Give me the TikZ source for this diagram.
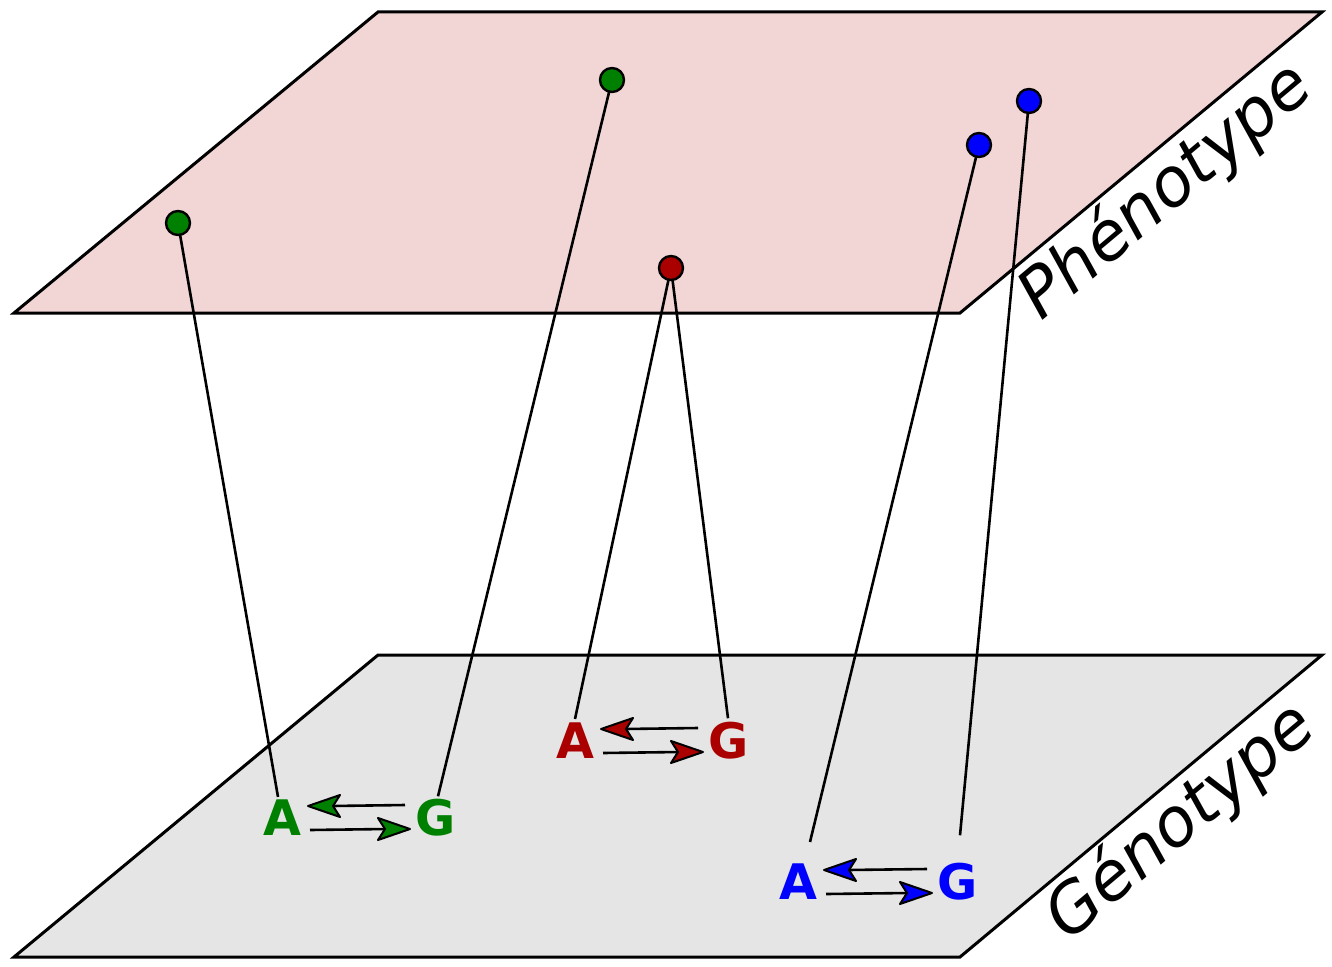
\documentclass[tikz,border=0pt]{standalone}
\usepackage{fontspec}
\setmainfont{DejaVu Sans}
\usetikzlibrary{calc}
\definecolor{pinkplane}{HTML}{F2D6D6}
\definecolor{greyplane}{HTML}{E5E5E5}
\definecolor{cgreen}{HTML}{008000}
\definecolor{cred}{HTML}{AA0000}
\definecolor{cblue}{HTML}{0000FF}
\tikzset{
  plane/.style={draw=black,line width=3pt,line join=miter},
  dot/.style={circle,draw=black,line width=2.4pt,minimum size=24pt,inner sep=0pt},
  link/.style={draw=black,line width=2.6pt},
  base/.style={font=\fontsize{49}{49}\selectfont\bfseries,inner sep=0pt},
  label/.style={font=\fontsize{67}{67}\selectfont\itshape,rotate=40,inner sep=0pt},
  shaft/.style={draw=black,line width=2.6pt},
  tiphead/.style={draw=black,fill=#1,line width=2pt,line join=round},
}
\begin{document}
\begin{tikzpicture}[x=1pt,y=-1pt]
\useasboundingbox (0,0) rectangle (1332,966);
% planes
\draw[plane,fill=pinkplane] (378,12) -- (1322,12) -- (960,313) -- (14,313) -- cycle;
\draw[plane,fill=greyplane] (378,655) -- (1322,655) -- (960,957) -- (14,957) -- cycle;
% labels
\node[label] (pheno) at (1166,192) {Phénotype};
\node[label] (geno) at (1181,822) {Génotype};
% letters
\node[base,text=cgreen] (gA) at (282,818) {A};
\node[base,text=cgreen] (gG) at (436,818) {G};
\node[base,text=cred] (rA) at (575,741) {A};
\node[base,text=cred] (rG) at (729,741) {G};
\node[base,text=cblue] (bA) at (798,882) {A};
\node[base,text=cblue] (bG) at (958,882) {G};
% dots positions
\coordinate (d1) at (178,223);
\coordinate (d2) at (612,80);
\coordinate (d3) at (671,268);
\coordinate (d4) at (979,145);
\coordinate (d5) at (1029,101);
% links
\draw[link] (d1) -- ($(gA.north)+(-4,-3)$);
\draw[link] (d2) -- ($(gG.north)+(2,-3)$);
\draw[link] (d3) -- ($(rA.north)+(0,-4)$);
\draw[link] (d3) -- ($(rG.north)+(-1,-4)$);
\draw[link] (d4) -- ($(bA.north)+(12,-22)$);
\draw[link] (d5) -- ($(bG.north)+(2,-28)$);
% dots
\node[dot,fill=cgreen] (p1) at (d1) {};
\node[dot,fill=cgreen] (p2) at (d2) {};
\node[dot,fill=cred] (p3) at (d3) {};
\node[dot,fill=cblue] (p4) at (d4) {};
\node[dot,fill=cblue] (p5) at (d5) {};
% flows (A <-- G above, A --> G below)
\foreach \a/\g/\c in {gA/gG/cgreen,rA/rG/cred,bA/bG/cblue}{
  \coordinate (\a-back) at ($(\g.center)+(-31,-13)$);
  \coordinate (\a-tip) at ($(\a.center)+(26,-12)$);
  \coordinate (\g-start) at ($(\a.center)+(28,12)$);
  \coordinate (\g-tip) at ($(\g.center)+(-26,11)$);
  \draw[shaft] (\a-back) -- ($(\a-tip)+(24,0)$);
  \draw[tiphead=\c] (\a-tip) -- ++(32,-11) -- ++(-7,11) -- ++(7,11) -- cycle;
  \draw[shaft] (\g-start) -- ($(\g-tip)+(-24,0)$);
  \draw[tiphead=\c] (\g-tip) -- ++(-32,-11) -- ++(7,11) -- ++(-7,11) -- cycle;
}
\end{tikzpicture}
\end{document}
